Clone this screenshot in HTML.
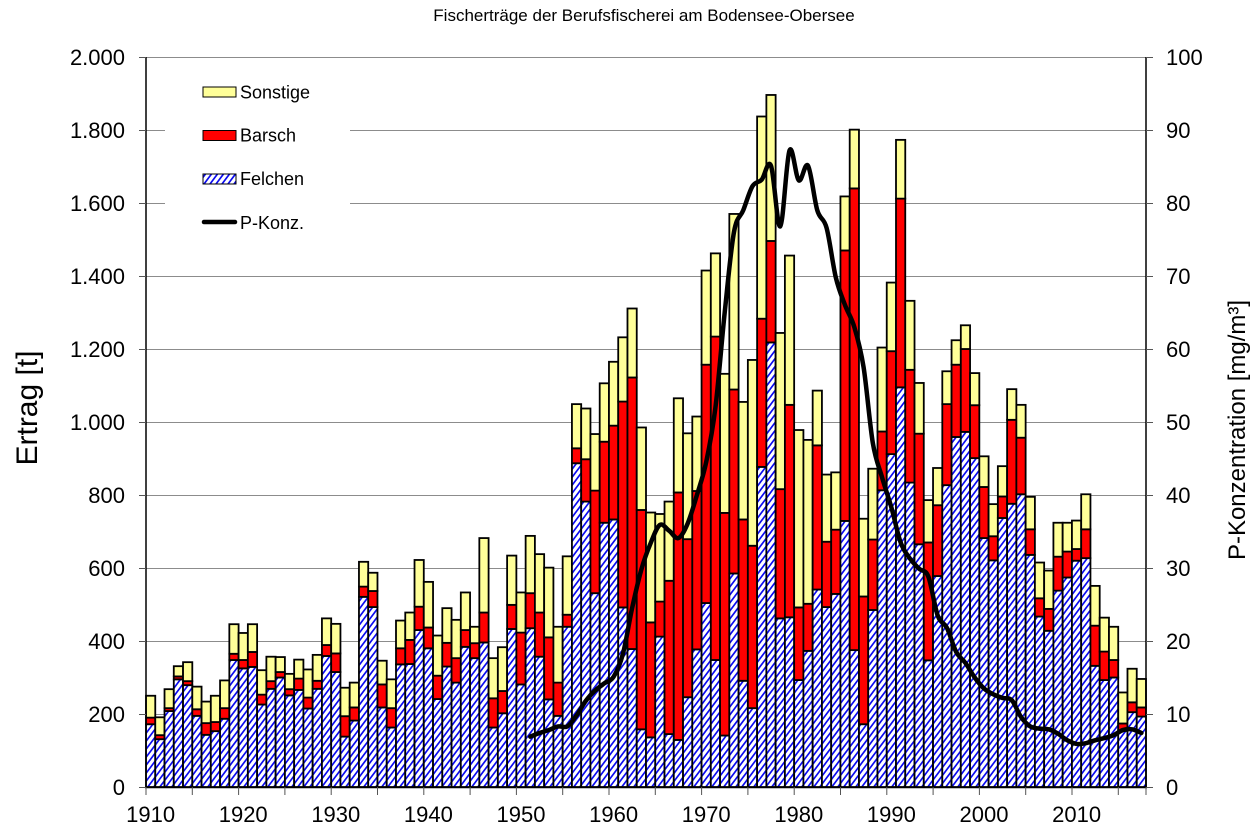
<!DOCTYPE html>
<html>
<head>
<meta charset="utf-8">
<style>
html,body{margin:0;padding:0;background:#fff;}
svg{display:block;font-family:"Liberation Sans",Arial,sans-serif;}
</style>
</head>
<body>
<svg id="chart" width="1258" height="840" viewBox="0 0 1258 840" xmlns="http://www.w3.org/2000/svg">
<defs>
<pattern id="h" patternUnits="userSpaceOnUse" width="6" height="8">
<rect width="6" height="8" fill="#fff"/>
<path d="M-1.5,2 L1.5,-2 M0,8 L6,0 M4.5,10 L7.5,6" stroke="#0a0af0" stroke-width="1.7"/>
</pattern>
</defs>
<rect width="1258" height="840" fill="#fff"/>
<text x="644" y="21" font-size="17" text-anchor="middle" fill="#000">Fischerträge der Berufsfischerei am Bodensee-Obersee</text>

<!-- gridlines -->
<g stroke="#8c8c8c" stroke-width="1">
<line x1="146" y1="57.5" x2="1146" y2="57.5"/>
<line x1="146" y1="130.5" x2="1146" y2="130.5"/>
<line x1="146" y1="203.5" x2="1146" y2="203.5"/>
<line x1="146" y1="276.5" x2="1146" y2="276.5"/>
<line x1="146" y1="349.5" x2="1146" y2="349.5"/>
<line x1="146" y1="422.5" x2="1146" y2="422.5"/>
<line x1="146" y1="495.5" x2="1146" y2="495.5"/>
<line x1="146" y1="568.5" x2="1146" y2="568.5"/>
<line x1="146" y1="641.5" x2="1146" y2="641.5"/>
<line x1="146" y1="714.5" x2="1146" y2="714.5"/>
</g>
<!-- legend background -->
<rect x="165" y="64" width="185" height="174" fill="#fff"/>

<g id="bars" stroke="#000" stroke-width="1.8"></g>
<path id="pline" fill="none" stroke="#000" stroke-width="4.5" stroke-linejoin="round" stroke-linecap="round"/>

<!-- axes -->
<g stroke="#000" stroke-width="1.5">
<line x1="146" y1="57" x2="146" y2="788"/>
<line x1="1146" y1="57" x2="1146" y2="788"/>
<line x1="145" y1="787.5" x2="1147" y2="787.5"/>
</g>
<g stroke="#555" stroke-width="1">
<path d="M139,57.5H146M139,130.5H146M139,203.5H146M139,276.5H146M139,349.5H146M139,422.5H146M139,495.5H146M139,568.5H146M139,641.5H146M139,714.5H146M139,787.5H146"/>
<path d="M1146,57.5H1153M1146,130.5H1153M1146,203.5H1153M1146,276.5H1153M1146,349.5H1153M1146,422.5H1153M1146,495.5H1153M1146,568.5H1153M1146,641.5H1153M1146,714.5H1153M1146,787.5H1153"/>
<path d="M146,787V795M192.3,787V795M238.6,787V795M284.9,787V795M331.2,787V795M377.5,787V795M423.8,787V795M470.1,787V795M516.4,787V795M562.7,787V795M609,787V795M655.3,787V795M701.6,787V795M747.9,787V795M794.2,787V795M840.5,787V795M886.8,787V795M933.1,787V795M979.4,787V795M1025.7,787V795M1072,787V795M1118.3,787V795M1146,787V795"/>
</g>

<!-- left axis labels -->
<g font-size="22" text-anchor="end" fill="#000">
<text x="125" y="65">2.000</text>
<text x="125" y="138">1.800</text>
<text x="125" y="211">1.600</text>
<text x="125" y="284">1.400</text>
<text x="125" y="357">1.200</text>
<text x="125" y="430">1.000</text>
<text x="125" y="503">800</text>
<text x="125" y="576">600</text>
<text x="125" y="649">400</text>
<text x="125" y="722">200</text>
<text x="125" y="795">0</text>
</g>
<!-- right axis labels -->
<g font-size="22" text-anchor="start" fill="#000">
<text x="1166" y="65">100</text>
<text x="1166" y="138">90</text>
<text x="1166" y="211">80</text>
<text x="1166" y="284">70</text>
<text x="1166" y="357">60</text>
<text x="1166" y="430">50</text>
<text x="1166" y="503">40</text>
<text x="1166" y="576">30</text>
<text x="1166" y="649">20</text>
<text x="1166" y="722">10</text>
<text x="1166" y="795">0</text>
</g>
<!-- x labels -->
<g font-size="22" text-anchor="middle" fill="#000">
<text x="150.6" y="822">1910</text>
<text x="243.2" y="822">1920</text>
<text x="335.8" y="822">1930</text>
<text x="428.4" y="822">1940</text>
<text x="521" y="822">1950</text>
<text x="613.6" y="822">1960</text>
<text x="706.2" y="822">1970</text>
<text x="798.8" y="822">1980</text>
<text x="891.4" y="822">1990</text>
<text x="984" y="822">2000</text>
<text x="1076.6" y="822">2010</text>
</g>
<!-- axis titles -->
<text transform="translate(37,408) rotate(-90)" font-size="30" text-anchor="middle" fill="#000">Ertrag [t]</text>
<text transform="translate(1245,430) rotate(-90)" font-size="24" text-anchor="middle" fill="#000">P-Konzentration [mg/m³]</text>

<!-- legend -->
<rect x="203" y="87" width="33" height="10" fill="#ffff99" stroke="#000" stroke-width="1"/>
<rect x="203" y="130.5" width="33" height="10" fill="#ff0000" stroke="#000" stroke-width="1"/>
<rect x="203" y="174" width="33" height="10" fill="url(#h)" stroke="#000" stroke-width="1"/>
<line x1="204" y1="222" x2="235" y2="222" stroke="#000" stroke-width="4.5" stroke-linecap="round"/>
<g font-size="18" fill="#000">
<text x="240" y="98.5">Sonstige</text>
<text x="240" y="141.5">Barsch</text>
<text x="240" y="185">Felchen</text>
<text x="240" y="229">P-Konz.</text>
</g>
</svg>
<script>
(function(){
var D=[
[250,190,172],[191,142,131],[268,216,208],[331,303,295],[342,290,279],[275,213,195],[234,175,143],[250,178,153],[292,216,187],[446,365,348],
[422,348,325],[446,370,329],[320,253,226],[357,290,269],[356,315,300],[310,268,251],[349,297,266],[322,245,215],[362,291,269],[462,389,359],
[447,366,315],[272,194,138],[286,218,182],[617,549,521],[587,537,493],[346,281,218],[295,216,163],[456,380,336],[478,403,337],[622,494,430],
[562,437,380],[415,305,241],[490,395,330],[458,353,286],[533,430,384],[439,394,353],[682,478,396],[353,243,163],[383,263,202],[634,499,433],
[533,423,281],[688,531,435],[638,478,357],[601,410,240],[439,286,195],[632,472,439],[1049,928,887],[1037,898,782],[967,812,531],[1106,946,724],
[1165,990,733],[1232,1056,492],[1311,1122,378],[985,759,158],[752,451,136],[748,508,412],[782,565,145],[1065,807,129],[969,679,246],[1015,811,377],
[1415,1157,504],[1462,1234,348],[1132,751,141],[1570,1089,585],[1055,733,291],[1170,661,216],[1837,1283,877],[1896,1496,1218],[1244,816,462],[1456,1047,465],
[978,492,293],[951,502,373],[1086,936,541],[856,672,493],[862,705,529],[1618,1470,729],[1801,1640,375],[735,522,172],[872,678,485],[1204,974,813],
[1382,1194,912],[1773,1612,1095],[1332,1143,834],[1107,968,665],[786,670,347],[874,772,578],[1139,1049,827],[1224,1157,959],[1265,1200,973],[1134,1046,901],
[906,822,682],[775,687,621],[879,796,737],[1090,1006,776],[1047,957,802],[795,706,636],[615,517,467],[593,488,428],[724,631,538],[724,645,574],
[730,652,620],[802,706,627],[551,442,332],[464,371,293],[439,348,300],[259,174,154],[324,232,205],[296,218,193]
];
var P=[6.9,7.4,7.8,8.3,8.3,9.8,11.8,13.2,14.2,15.1,18.2,24.5,29.8,33.4,35.9,35.1,34.1,36.1,40,44.5,
52,65,76,79,82.3,83.2,85.1,76.8,87.2,83.1,85.1,79,76.6,69.8,66,63,57.5,47.1,42.4,38.3,
33.5,31.3,29.9,28.8,23.5,21.8,18.5,17,15,13.5,12.7,12.2,11.9,9.6,8.3,8.0,7.9,7.3,6.4,5.9,
6.0,6.4,6.7,7.1,7.8,7.9,7.4];
var W=1000/108, B=787, S=0.365;
function f(v){return (Math.round(v*100)/100);}
var s='';
for(var i=0;i<D.length;i++){
 var d=D[i], x=146+i*W;
 var yF=B-d[2]*S, yB=B-d[1]*S, yT=B-d[0]*S;
 s+='<rect x="'+f(x)+'" y="'+f(yF)+'" width="'+f(W)+'" height="'+f(B-yF)+'" fill="url(#h)"/>';
 if(yF-yB>0.01) s+='<rect x="'+f(x)+'" y="'+f(yB)+'" width="'+f(W)+'" height="'+f(yF-yB)+'" fill="#ff0000"/>';
 if(yB-yT>0.01) s+='<rect x="'+f(x)+'" y="'+f(yT)+'" width="'+f(W)+'" height="'+f(yB-yT)+'" fill="#ffff99"/>';
}
document.getElementById('bars').innerHTML=s;
var pts=[];
for(var k=0;k<P.length;k++){pts.push([146+(41+k+0.5)*W, B-P[k]*7.3]);}
var p='M'+f(pts[0][0])+','+f(pts[0][1]);
for(var j=0;j<pts.length-1;j++){
 var p0=pts[j-1]||pts[j], p1=pts[j], p2=pts[j+1], p3=pts[j+2]||pts[j+1];
 var c1x=p1[0]+(p2[0]-p0[0])/6, c1y=p1[1]+(p2[1]-p0[1])/6;
 var c2x=p2[0]-(p3[0]-p1[0])/6, c2y=p2[1]-(p3[1]-p1[1])/6;
 p+=' C'+f(c1x)+','+f(c1y)+' '+f(c2x)+','+f(c2y)+' '+f(p2[0])+','+f(p2[1]);
}
document.getElementById('pline').setAttribute('d',p);
})();
</script>
</body>
</html>
